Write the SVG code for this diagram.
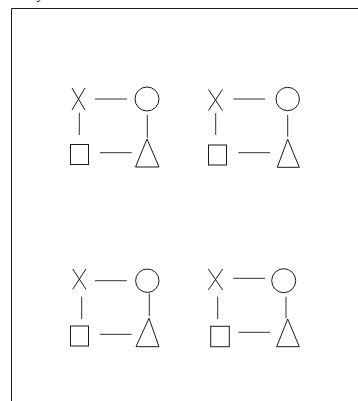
<svg xmlns="http://www.w3.org/2000/svg" width="358" height="401" viewBox="0 0 358 401">
<style>
.s{fill:none;stroke:#1a1a1a;stroke-width:1}
.c{stroke:#333;stroke-width:1;fill:none}
.t{font-family:"Liberation Serif",serif;font-style:italic;font-size:14px;fill:#000}
</style>
<rect width="358" height="401" fill="#fff"/>
<text class="t" x="38" y="-1">y</text>
<g id="frame"><path class="s" d="M11.5 401V8.5H358"/></g>
<g id="cell1">
<g id="x1"><path class="s" d="M72 88L85 110M85 88L72 110"/></g>
<g id="o1"><circle class="s" cx="147" cy="99" r="12"/></g>
<g id="sq1"><rect class="s" x="70.5" y="144.5" width="18" height="20"/></g>
<g id="tr1"><path class="s" d="M147 139L135.5 167H159Z"/></g>
</g>
<g id="cell2">
<g id="x2"><path class="s" d="M208.5 89.5L222.5 110.5M222.5 89.5L208.5 110.5"/></g>
<g id="o2"><circle class="s" cx="287.7" cy="99" r="11.7"/></g>
<g id="sq2"><rect class="s" x="208.5" y="145" width="18" height="20"/></g>
<g id="tr2"><path class="s" d="M287.7 139.3L277.3 167.3H299.3Z"/></g>
</g>
<g id="cell3">
<g id="x3"><path class="s" d="M72.7 269L86 289.3M86 269L72.7 289.3"/></g>
<g id="o3"><circle class="s" cx="147.3" cy="280.7" r="11.7"/></g>
<g id="sq3"><rect class="s" x="70.5" y="326" width="18" height="20"/></g>
<g id="tr3"><path class="s" d="M149 318.3L136 346.7H159Z"/></g>
</g>
<g id="cell4">
<g id="x4"><path class="s" d="M208.3 269L222.7 290M222.7 269L208.3 290"/></g>
<g id="o4"><circle class="s" cx="283.7" cy="280.7" r="12"/></g>
<g id="sq4"><rect class="s" x="210.7" y="326.3" width="18.6" height="20.4"/></g>
<g id="tr4"><path class="s" d="M287.7 319L276.7 346.7H299.3Z"/></g>
</g>
<g id="connectors">
<path class="c" d="M95 99H127M79.3 112.7V135M147.3 115V138M100 152.7H131.7"/>
<path class="c" d="M233.3 99H265M215.7 113V135M287.7 115V136.7M238.3 152.7H270"/>
<path class="c" d="M95 280.7H126.7M81.7 296.7V319M149.3 293.3V316M100 334.3H131.7"/>
<path class="c" d="M233.3 278.3H265M217.7 296.7V319M286 296.7V318.3M238.3 332.3H270"/>
</g>
</svg>
